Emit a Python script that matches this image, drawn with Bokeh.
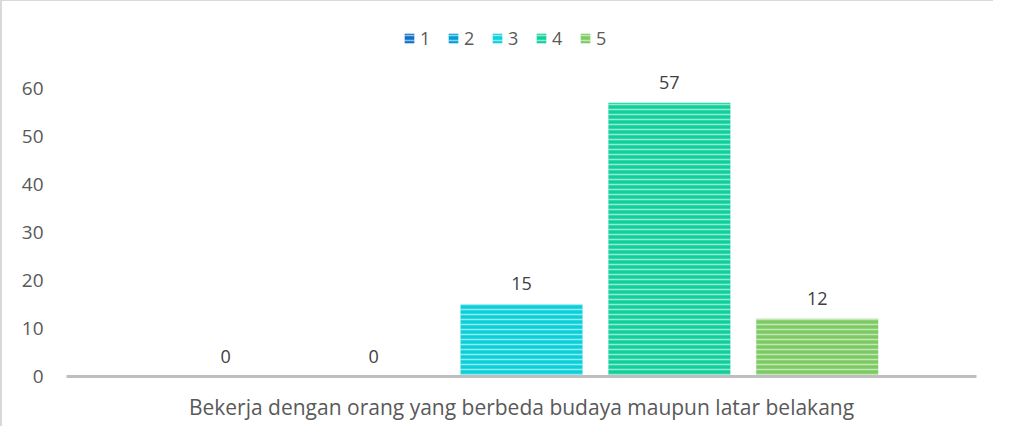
from bokeh.plotting import figure
from bokeh.models import FactorRange, Range1d, ColumnDataSource, LabelSet, Legend, LegendItem, FixedTicker
from bokeh.transform import dodge
from bokeh.core.properties import value
from bokeh.embed import file_html
from bokeh.resources import INLINE

category = "Bekerja dengan orang yang berbeda budaya maupun latar belakang"
series = ["1", "2", "3", "4", "5"]
values = [0, 0, 15, 57, 12]
colors = ["#0F6FC6", "#009DD9", "#0BD0D9", "#10CF9B", "#7CCA62"]
offsets = [-0.325, -0.1625, 0.0, 0.1625, 0.325]
y_ticks = [0, 10, 20, 30, 40, 50, 60]

FONT = "Open Sans"

p = figure(width=993, height=426, x_range=FactorRange(factors=[category], range_padding=0),
           y_range=Range1d(0, 73.5), output_backend="svg", toolbar_location=None,
           min_border_left=64, min_border_right=19, min_border_bottom=51, min_border_top=22)
p.styles = {"border-left": "2px solid #d9d9d9", "border-top": "1px solid #d9d9d9"}
p.outline_line_color = None
p.grid.visible = False

items = []
for s, v, c, o in zip(series, values, colors, offsets):
    src = ColumnDataSource(dict(x=[category], top=[v], label=[str(v)]))
    r = p.vbar(x=dodge("x", o, range=p.x_range), top="top", width=0.134, source=src,
               fill_color=c, line_color=None,
               hatch_pattern="horizontal_line", hatch_color="white", hatch_alpha=0.55,
               hatch_scale=5, hatch_weight=1.5)
    lbl = LabelSet(x=dodge("x", o, range=p.x_range), y="top", text="label", source=src,
                   text_align="center", text_baseline="bottom", y_offset=14,
                   text_font=value(FONT), text_font_size=value("18px"), text_color=value("#404040"))
    p.add_layout(lbl)
    items.append(LegendItem(label=s, renderers=[r]))

legend = Legend(items=items, orientation="horizontal", location=(337, 326),
                glyph_width=12, glyph_height=12, spacing=7, label_standoff=5,
                label_text_font=FONT, label_text_font_size="18px", label_text_color="#595959",
                border_line_color=None, background_fill_alpha=0, padding=0, margin=0)
p.add_layout(legend)

p.yaxis.ticker = FixedTicker(ticks=y_ticks)
p.yaxis.axis_line_color = None
p.yaxis.major_tick_line_color = None
p.yaxis.minor_tick_line_color = None
p.yaxis.major_label_standoff = 17
p.yaxis.major_label_text_font = FONT
p.yaxis.major_label_text_font_size = "19px"
p.yaxis.major_label_text_color = "#595959"

p.xaxis.axis_line_color = "#bfbfbf"
p.xaxis.axis_line_width = 3
p.xaxis.major_tick_line_color = None
p.xaxis.minor_tick_line_color = None
p.xaxis.major_label_standoff = 10
p.xaxis.major_label_text_font = FONT
p.xaxis.major_label_text_font_size = "21px"
p.xaxis.major_label_text_color = "#595959"

open("out.html", "w").write(file_html(p, INLINE))
